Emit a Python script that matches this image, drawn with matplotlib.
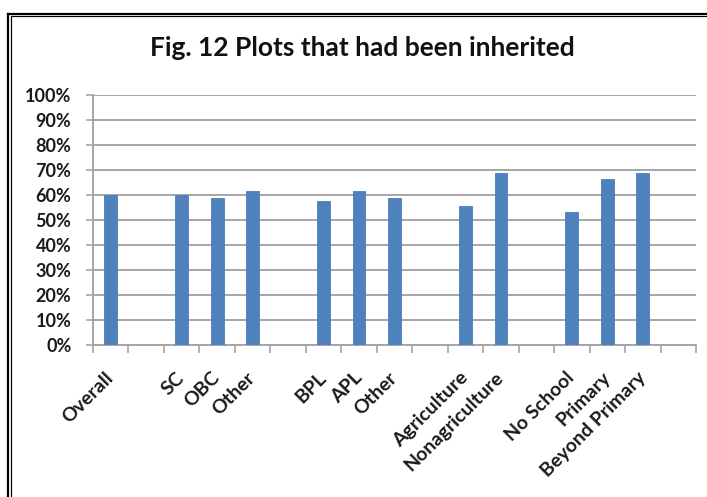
import matplotlib
matplotlib.use("Agg")
import matplotlib.pyplot as plt
from matplotlib.lines import Line2D
import numpy as np

categories = ["Overall", "", "SC", "OBC", "Other", "", "BPL", "APL", "Other", "",
              "Agriculture", "Nonagriculture", "", "No School", "Primary", "Beyond Primary", ""]
values = [59.8, None, 60.0, 58.7, 61.4, None, 57.5, 61.4, 58.7, None,
          55.6, 68.9, None, 53.2, 66.4, 68.9, None]
yticks = [0, 10, 20, 30, 40, 50, 60, 70, 80, 90, 100]
title = "Fig. 12 Plots that had been inherited"

plt.rcParams['font.family'] = ['Lato', 'DejaVu Sans']

fig = plt.figure(figsize=(7.07, 4.97), dpi=100)
ax = fig.add_axes([0.1315, 0.3068, 0.853, 0.5021])

x = np.arange(len(categories))
vals = np.array([np.nan if v is None else v for v in values], dtype=float)
ax.bar(x, vals, width=0.36, color="#4F81BD", edgecolor="#4A7EBB", linewidth=0.6, zorder=3)

ax.set_xlim(-0.5, len(categories) - 0.5)
ax.set_ylim(0, 100)
ax.set_yticks(yticks)
ax.set_yticklabels([f"{t}%" for t in yticks], fontsize=13, fontweight="bold", color="#1a1a1a")
ax.yaxis.grid(True, color="#A6A6A6", linewidth=1.4, zorder=0)
ax.tick_params(axis="y", length=5, width=1.2, color="#A6A6A6", pad=10.5)

# category boundaries as tick marks, labels at centers
ax.set_xticks(np.arange(len(categories) + 1) - 0.5)
ax.set_xticklabels([])
ax.tick_params(axis="x", which="major", length=6, width=1.2, color="#A6A6A6", direction="out")
ax.set_xticks(x, minor=True)
ax.set_xticklabels(categories, minor=True, rotation=45, ha="right", va="center",
                   rotation_mode="anchor", fontsize=14, fontweight="bold", color="#1a1a1a")
ax.tick_params(axis="x", which="minor", length=0, pad=22)

for s in ["top", "right"]:
    ax.spines[s].set_visible(False)
for s in ["left", "bottom"]:
    ax.spines[s].set_color("#A6A6A6")
    ax.spines[s].set_linewidth(1.4)

fig.text(0.512, 0.903, title, ha="center", va="center", fontsize=19, fontweight="bold", color="#111111")

W, H = 707, 497
# double border, left and top
for xl, lw, ytop in [(7.8, 2.2, 13.5), (11.2, 1.2, 16.0)]:
    fig.add_artist(Line2D([xl / W, xl / W], [1 - ytop / H, 0], color="black", lw=lw * 0.72))
for yl, lw, x0 in [(13.5, 2.2, 7.8), (16.0, 1.2, 11.2)]:
    fig.add_artist(Line2D([x0 / W, 1], [1 - yl / H, 1 - yl / H], color="black", lw=lw * 0.72))

fig.savefig("out.png", dpi=100)
